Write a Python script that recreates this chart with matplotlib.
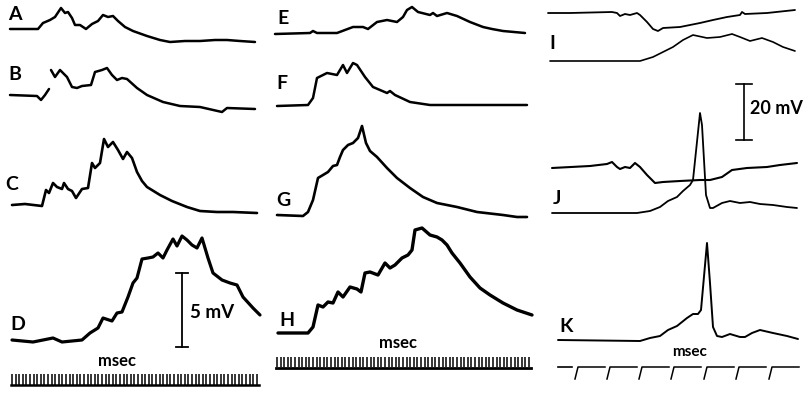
import numpy as np
import matplotlib.pyplot as plt

# traces: t = sweep time from start of trace, v = deflection above resting level
# (both in the scan's trace units; gaps in the record are nan)
A_t = [0, 28, 33, 40, 45, 51, 55, 58, 62, 65, 70, 76, 82, 88, 93, 98, 103, 108, 115, 123, 137, 150, 160, 175, 190, 205, 217, 230, 245]
A_v = [0, 0, 6, 9, 12, 21, 16, 17, 11, 4, 4, 0, 5, 8, 14, 12, 13, 8, 2, -2, -7, -11, -13, -12, -12, -11, -11, -12, -13]

B_t = [0, 27, 31, 35, 39, 40, 41, 45, 50, 57, 62, 67, 72, 81, 85, 92, 97, 102, 107, 112, 117, 127, 137, 153, 170, 190, 212, 217, 245]
B_v = [0, -1, -5, 0, 6, np.nan, 25, 18, 25, 18, 8, 7, 9, 10, 23, 25, 27, 20, 15, 17, 16, 7, 0, -7, -11, -12, -17, -13, -14]

C_t = [0, 13, 30, 34, 37, 41, 45, 50, 52, 56, 60, 64, 70, 76, 80, 83, 88, 92, 96, 101, 106, 111, 115, 120, 125, 130, 135, 148, 160, 175, 188, 205, 221, 245]
C_v = [0, 1, -1, 15, 12, 22, 18, 16, 22, 16, 14, 7, 16, 17, 42, 37, 42, 66, 58, 63, 55, 46, 53, 47, 33, 24, 18, 10, 4, -2, -6, -7, -7, -8]

D_t = [0, 21, 41, 50, 70, 78, 86, 91, 100, 105, 110, 116, 121, 125, 130, 136, 141, 146, 151, 155, 161, 165, 170, 175,
       180, 185, 190, 193, 196, 201, 210, 218, 225, 231, 241, 248]
D_v = [0, -2, 2, -2, 0, 7, 12, 22, 19, 27, 28, 43, 57, 62, 81, 82, 83, 87, 82, 90, 101, 94, 104, 100,
       95, 92, 102, 92, 82, 67, 60, 57, 55, 43, 32, 25]

E_t = [0, 35, 38, 42, 62, 78, 88, 93, 102, 112, 122, 128, 132, 137, 143, 155, 158, 162, 172, 182, 195, 208, 217, 228, 250]
E_v = [0, 1, 3, 1, 1, 7, 7, 5, 12, 14, 12, 17, 24, 27, 22, 19, 21, 18, 21, 18, 12, 7, 5, 3, 1]

F_t = [0, 31, 36, 40, 50, 60, 63, 66, 70, 76, 80, 88, 96, 110, 113, 118, 133, 153, 250]
F_v = [0, 1, 8, 28, 33, 31, 36, 41, 33, 43, 41, 29, 19, 13, 15, 11, 4, 1, 1]

G_t = [0, 26, 31, 36, 41, 46, 51, 56, 60, 63, 66, 71, 76, 81, 85, 89, 93, 100, 110, 120, 133, 146, 160, 180, 200, 226, 240, 250]
G_v = [0, -1, 3, 15, 37, 40, 43, 49, 50, 58, 65, 70, 72, 77, 89, 72, 64, 58, 47, 37, 27, 18, 12, 8, 3, 0, -2, -2]

H_t = [0, 30, 35, 40, 45, 50, 55, 60, 65, 72, 79, 83, 87, 92, 100, 107, 112, 117, 124, 130, 134, 137, 144, 152,
       159, 164, 169, 174, 182, 192, 202, 212, 225, 239, 254]
H_v = [0, 0, 6, 28, 26, 31, 30, 41, 36, 46, 44, 41, 60, 61, 58, 70, 65, 68, 75, 78, 83, 103, 105, 98,
       96, 93, 88, 80, 70, 56, 45, 38, 30, 23, 18]

I1_t = [0, 22, 64, 69, 72, 77, 82, 89, 92, 99, 105, 110, 115, 132, 152, 165, 179, 192, 194, 197, 219, 247]
I1_v = [0, 0, 1, 0, -3, -1, -2, 0, -2, -9, -16, -18, -15, -14, -10, -7, -4, -2, 1, -1, 0, 3]
I2_t = [0, 90, 103, 123, 133, 143, 157, 170, 182, 190, 200, 212, 223, 233, 245]
I2_v = [0, 0, 4, 14, 21, 26, 23, 24, 27, 24, 20, 23, 19, 14, 10]

J1_t = [0, 38, 55, 60, 65, 68, 73, 78, 83, 88, 95, 103, 111, 128, 148, 158, 170, 180, 195, 215, 228, 245]
J1_v = [0, 2, 4, 6, 1, -1, 1, 0, 5, 1, -7, -15, -14, -13, -12, -12, -9, -2, 0, 1, 3, 5]
J2_t = [0, 85, 98, 108, 116, 125, 131, 138, 141, 148, 150, 154, 158, 161, 170, 178, 188, 198, 208, 221, 235, 245]
J2_v = [0, 0, 2, 6, 12, 16, 22, 28, 33, 100, 88, 18, 5, 5, 10, 12, 10, 11, 9, 8, 6, 5]

K_t = [0, 82, 92, 102, 110, 119, 129, 135, 140, 143, 149, 152, 155, 159, 164, 172, 182, 187, 194, 202, 215, 229, 240]
K_v = [0, -1, 2, 4, 10, 14, 22, 26, 26, 30, 97, 57, 13, 4, 3, 6, 3, 3, 7, 10, 7, 4, 1]

traces = {
    'A': (A_t, A_v), 'B': (B_t, B_v), 'C': (C_t, C_v), 'D': (D_t, D_v),
    'E': (E_t, E_v), 'F': (F_t, F_v), 'G': (G_t, G_v), 'H': (H_t, H_v),
    'I1': (I1_t, I1_v), 'I2': (I2_t, I2_v), 'J1': (J1_t, J1_v), 'J2': (J2_t, J2_v),
    'K': (K_t, K_v),
}

# layout: trace origin (x, baseline y) on the page and pen width
origin = {
    'A': (10, 29, 1.8), 'B': (10, 95, 1.8), 'C': (12, 205, 1.9), 'D': (12, 340, 2.3),
    'E': (275, 34, 1.8), 'F': (277, 106, 1.8), 'G': (277, 215, 1.9), 'H': (278, 333, 2.4),
    'I1': (548, 13, 1.3), 'I2': (550, 61, 1.2), 'J1': (552, 168, 1.5), 'J2': (552, 213, 1.3),
    'K': (558, 340, 1.4),
}
labels = {'A': (15, 14), 'B': (15, 74), 'C': (12, 184), 'D': (18, 325),
          'E': (283, 18), 'F': (282, 83), 'G': (283, 200), 'H': (287, 320),
          'I': (552, 43), 'J': (557, 198), 'K': (566, 326)}

fig = plt.figure(figsize=(8.05, 3.94), dpi=100)
ax = fig.add_axes([0, 0, 1, 1])
ax.set_xlim(0, 805)
ax.set_ylim(394, 0)
ax.axis('off')

for k, (t, v) in traces.items():
    x0, y0, lw = origin[k]
    ax.plot(x0 + np.array(t, float), y0 - np.array(v, float), color='black', lw=lw,
            solid_joinstyle='round', solid_capstyle='round')

font = dict(family=['Lato', 'DejaVu Sans'], weight='bold', color='black')
for k, (x, y) in labels.items():
    ax.text(x, y, k, ha='center', va='center', fontsize=14, **font)

# voltage calibration bars
ax.plot([182, 182], [273, 347], color='black', lw=1.3)
ax.plot([176, 188], [273, 273], color='black', lw=1.3)
ax.plot([176, 188], [347, 347], color='black', lw=1.3)
ax.text(190, 312, '5 mV', ha='left', va='center', fontsize=13.5, **font)

ax.plot([744, 744], [84, 140], color='black', lw=1.2)
ax.plot([736, 752], [84, 84], color='black', lw=1.2)
ax.plot([736, 752], [140, 140], color='black', lw=1.2)
ax.text(750, 108, '20 mV', ha='left', va='center', fontsize=13, **font)

# time markers
ax.text(117, 361, 'msec', ha='center', va='center', fontsize=12, **font)
ticks = np.arange(12, 259, 3.6)
ax.vlines(ticks, 374, 385, color='black', lw=1.1)
ax.plot([11, 259], [385, 385], color='black', lw=1.8)

ax.text(398, 343, 'msec', ha='center', va='center', fontsize=12, **font)
ticks = np.arange(277, 531, 3.6)
ax.vlines(ticks, 357, 367, color='black', lw=1.1)
ax.plot([276, 531], [368, 368], color='black', lw=2.0)

ax.text(690, 352, 'msec', ha='center', va='center', fontsize=11, **font)
ax.plot([558, 572], [367, 367], color='black', lw=1.2)
for s in [578, 610, 642, 674, 707, 739, 772]:
    ax.plot([s - 3, s, s + 27], [379, 367, 367], color='black', lw=1.1)

fig.savefig('out.png', dpi=100)
